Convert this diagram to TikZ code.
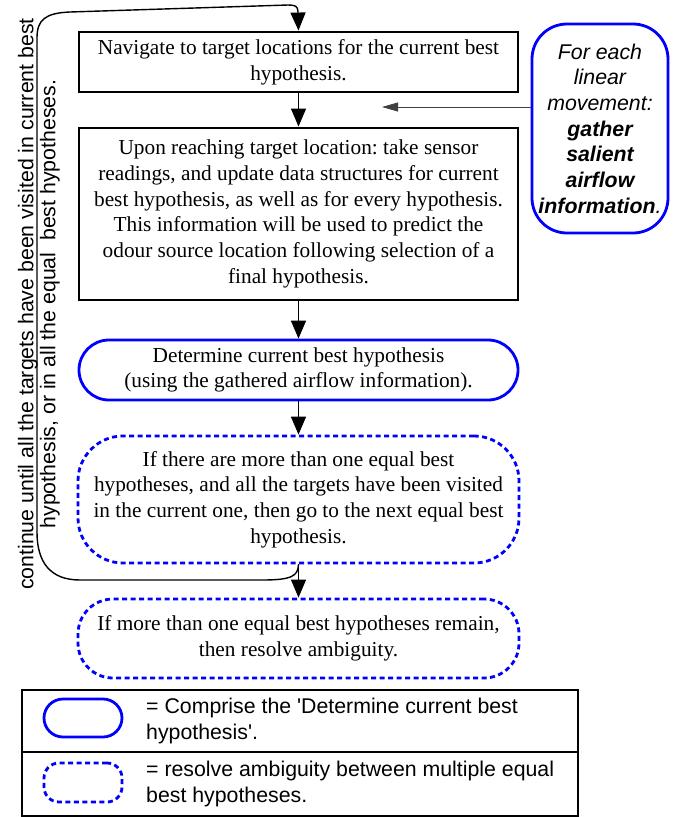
\documentclass[tikz,border=0pt]{standalone}
\usepackage{fontspec}
\setmainfont{Liberation Serif}
\setsansfont{Liberation Sans}
\usetikzlibrary{arrows.meta}
\newcommand\mainsz{\fontsize{21.3}{25.7}\selectfont\frenchspacing}
\begin{document}
\begin{tikzpicture}[x=1pt,y=-1pt,
  mainbox/.style={draw=black, line width=2.9pt, minimum width=439pt, inner sep=0pt, align=center, font=\mainsz},
  bluebox/.style={draw=blue, line width=2.8pt, inner sep=0pt, align=center, font=\mainsz},
  dashbox/.style={bluebox, dash pattern=on 5pt off 3.5pt},
  flow/.style={-{Triangle[length=18pt,width=15pt]}, line width=1.4pt},
  sidearrow/.style={-{Triangle[length=16pt,width=9pt]}, line width=0.8pt, draw=black!75},
  legtext/.style={align=left, inner sep=0pt, font=\sffamily\fontsize{21.3}{26.5}\selectfont}
]
\useasboundingbox (0,0) rectangle (692,817);

\node[mainbox, minimum height=60pt] (b1) at (298.5,62) {Navigate to target locations for the current best\\hypothesis.};
\node[mainbox, minimum height=172pt] (b2) at (298.5,214) {Upon reaching target location: take sensor\\readings, and update data structures for current\\best hypothesis, as well as for every hypothesis.\\This information will be used to predict the\\odour source location following selection of a\\final hypothesis.};
\node[bluebox, rounded corners=30pt, minimum width=439pt, minimum height=60pt] (b3) at (298.5,370) {Determine current best hypothesis\\(using the gathered airflow information).};
\node[dashbox, rounded corners=45pt, minimum width=441pt, minimum height=127pt] (b4) at (298.5,499.5) {If there are more than one equal best\\hypotheses, and all the targets have been visited\\in the current one, then go to the next equal best\\hypothesis.};
\node[dashbox, rounded corners=35pt, minimum width=441pt, minimum height=79pt] (b5) at (298.5,638.5) {If more than one equal best hypotheses remain,\\then resolve ambiguity.};
\node[bluebox, rounded corners=35pt, minimum width=136pt, minimum height=209pt, font=\sffamily\itshape\mainsz] (rb) at (600,128.5) {For each\\linear\\movement:\\\textbf{gather}\\\textbf{salient}\\\textbf{airflow}\\\textbf{information}.};

\draw[flow] (b1.south) -- (b2.north);
\draw[flow] (b2.south) -- (b3.north);
\draw[flow] (b3.south) -- (b4.north);
\draw[flow] (b4.south) -- (b5.north);

\coordinate (tip) at (382,107);
\draw[sidearrow] (rb.west |- tip) -- (tip);

\draw[flow] (b4.south) .. controls (298,576) and (292,580) .. (262,580) -- (80,580)
  .. controls (50,580) and (37,562) .. (37,532) -- (37,38)
  .. controls (37,20) and (45,13) .. (70,12) -- (288,5)
  .. controls (295,5) and (298,6) .. (298,12) -- (b1.north);

\node[rotate=90, font=\sffamily\fontsize{21.3}{22}\selectfont, align=center, inner sep=0pt] (rt) at (38.8,304) {continue until all the targets have been visited in current best\\hypothesis, or in all the equal~ best hypotheses.};

\node[draw, line width=1.3pt, minimum width=556pt, minimum height=126pt, inner sep=0pt] (leg) at (300,753) {};
\coordinate (div) at (0,752);
\draw[line width=1.3pt] (leg.west |- div) -- (leg.east |- div);
\node[bluebox, rounded corners=19pt, minimum width=78pt, minimum height=38pt] (i1) at (83,718) {};
\node[dashbox, rounded corners=15pt, minimum width=78pt, minimum height=39pt] (i2) at (83,782.5) {};
\node[legtext, anchor=west] (t1) at (146,721) {= Comprise the \textquotesingle Determine current best\\hypothesis\textquotesingle.};
\node[legtext, anchor=west] (t2) at (146,784) {= resolve ambiguity between multiple equal\\best hypotheses.};
\end{tikzpicture}
\end{document}
